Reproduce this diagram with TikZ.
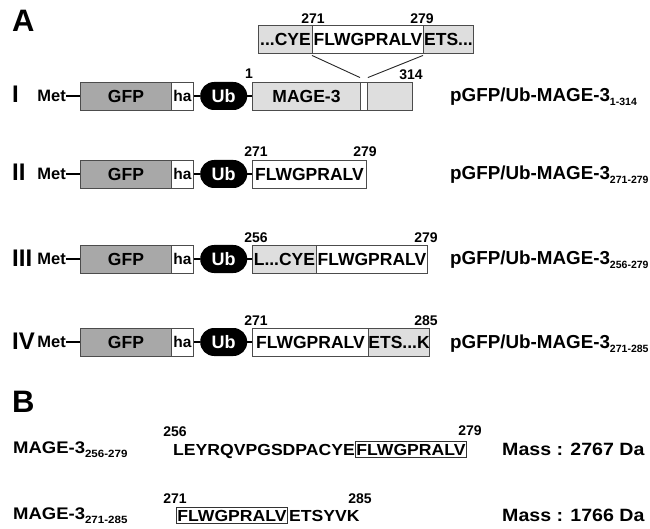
\documentclass[tikz,border=0pt]{standalone}
\usepackage{fontspec}
\setmainfont{Liberation Sans}
\newfontfamily\widefont[FakeStretch=1.1]{Liberation Sans}
\newcommand\setfs[1]{\fontsize{#1}{#1}\selectfont}
\newcommand\lowsub[2][10.5]{\raisebox{-4pt}{\setfs{#1}#2}}
\definecolor{gfpgray}{gray}{0.66}
\definecolor{magegray}{gray}{0.87}
\definecolor{edgegray}{gray}{0.3}
\begin{document}
\begin{tikzpicture}[x=1pt,y=-1pt,
  seg/.style={draw=edgegray,line width=0.9pt,minimum height=28pt,inner sep=0pt,anchor=west,font=\bfseries\setfs{17.5}},
  gfpbox/.style={seg,fill=gfpgray},
  litebox/.style={seg,fill=magegray},
  whitebox/.style={seg,fill=white},
  habox/.style={seg,fill=white,minimum width=22pt,font=\bfseries\setfs{15.5}},
  ubpill/.style={fill=black,text=white,minimum width=47pt,minimum height=28pt,inner sep=0pt,anchor=west,rounded corners=13.9pt,font=\bfseries\setfs{18}},
  link/.style={line width=2pt},
  zoomline/.style={line width=0.9pt,draw=black!85},
  num/.style={inner sep=0pt,font=\bfseries\setfs{14}},
  roman/.style={inner sep=0pt,anchor=base west,font=\bfseries\setfs{24}},
  metlbl/.style={inner sep=0pt,anchor=east,font=\bfseries\setfs{16.5}},
  plabel/.style={inner sep=0pt,anchor=base west,font=\bfseries\setfs{18.8}},
  panel/.style={inner sep=0pt,anchor=north west,font=\bfseries\setfs{31}},
  seqtext/.style={inner sep=0pt,anchor=base west,font=\widefont\bfseries\setfs{16}},
  seqbox/.style={seqtext,draw=black!80,line width=0.8pt,inner xsep=1pt,inner ysep=2pt},
  masslbl/.style={inner sep=0pt,anchor=base west,font=\widefont\bfseries\setfs{17.8}},
  namelbl/.style={inner sep=0pt,anchor=base west,font=\widefont\bfseries\setfs{16.8}}
]
\useasboundingbox (0,0) rectangle (650,529);

% ---------- Panel A ----------
\node[panel] (A) at (12,10) {A};

% Row I
\node[roman] (r1) at (12,103) {I};
\node[metlbl] (met1) at (66,96) {Met};
\node[gfpbox,minimum width=91pt] (gfp1) at (80,96) {GFP};
\node[habox] (ha1) at (171,96) {ha};
\node[ubpill] (ub1) at (200,96) {Ub};
\node[litebox,minimum width=108pt] (mage1) at (252,96) {MAGE-3};
\node[whitebox,minimum width=7pt] (strip1) at (360,96) {};
\node[litebox,minimum width=45pt] (tail1) at (367,96) {};
\draw[link] (met1) -- (gfp1);
\draw[link] (ha1) -- (ub1);
\draw[link] (ub1) -- (mage1);
\node[num] (n1a) at (249,74) {1};
\node[num] (n1b) at (411,75) {314};
\node[plabel] (l1) at (450,102) {pGFP/Ub-MAGE-3\lowsub{1-314}};

% callout
\node[litebox,minimum width=54pt] (c1) at (258,39) {...CYE};
\node[whitebox,minimum width=111pt] (c2) at (312,39) {FLWGPRALV};
\node[litebox,minimum width=50pt] (c3) at (423,39) {ETS...};
\node[num] (c271) at (313,19) {271};
\node[num] (c279) at (422,19) {279};
\draw[zoomline] ([yshift=-2pt]c2.south west) -- ([yshift=4pt]strip1.north west);
\draw[zoomline] ([yshift=-2pt]c3.south west) -- ([yshift=4pt]strip1.north east);

% Row II
\node[roman] (r2) at (12,181) {II};
\node[metlbl] (met2) at (66,174) {Met};
\node[gfpbox,minimum width=91pt] (gfp2) at (80,174) {GFP};
\node[habox] (ha2) at (171,174) {ha};
\node[ubpill] (ub2) at (200,174) {Ub};
\node[whitebox,minimum width=114pt] (flw2) at (252,174) {FLWGPRALV};
\draw[link] (met2) -- (gfp2);
\draw[link] (ha2) -- (ub2);
\draw[link] (ub2) -- (flw2);
\node[num] (n2a) at (256,152) {271};
\node[num] (n2b) at (365,152) {279};
\node[plabel] (l2) at (450,180) {pGFP/Ub-MAGE-3\lowsub{271-279}};

% Row III
\node[roman] (r3) at (12,266) {III};
\node[metlbl] (met3) at (66,259) {Met};
\node[gfpbox,minimum width=91pt] (gfp3) at (80,259) {GFP};
\node[habox] (ha3) at (171,259) {ha};
\node[ubpill] (ub3) at (200,259) {Ub};
\node[litebox,minimum width=64pt] (cye3) at (252,259) {L...CYE};
\node[whitebox,minimum width=111pt] (flw3) at (316,259) {FLWGPRALV};
\draw[link] (met3) -- (gfp3);
\draw[link] (ha3) -- (ub3);
\draw[link] (ub3) -- (cye3);
\node[num] (n3a) at (256,238) {256};
\node[num] (n3b) at (426,238) {279};
\node[plabel] (l3) at (450,265) {pGFP/Ub-MAGE-3\lowsub{256-279}};

% Row IV
\node[roman] (r4) at (12,349) {IV};
\node[metlbl] (met4) at (66,342) {Met};
\node[gfpbox,minimum width=91pt] (gfp4) at (80,342) {GFP};
\node[habox] (ha4) at (171,342) {ha};
\node[ubpill] (ub4) at (200,342) {Ub};
\node[whitebox,minimum width=116pt] (flw4) at (252,342) {FLWGPRALV};
\node[litebox,minimum width=59pt] (ets4) at (368,342) {ETS...K};
\draw[link] (met4) -- (gfp4);
\draw[link] (ha4) -- (ub4);
\draw[link] (ub4) -- (flw4);
\node[num] (n4a) at (256,321) {271};
\node[num] (n4b) at (426,321) {285};
\node[plabel] (l4) at (450,348) {pGFP/Ub-MAGE-3\lowsub{271-285}};

% ---------- Panel B ----------
\node[panel] (B) at (12,391) {B};

\node[namelbl] (pb1) at (13,453) {MAGE-3\lowsub{256-279}};
\node[num] (b256) at (175,432) {256};
\node[seqtext] (s1) at (173,455) {LEYRQVPGSDPACYE};
\node[seqbox] (bx1) at (s1.base east) {FLWGPRALV};
\node[num] (b279) at (470,431) {279};
\node[masslbl] (mass1) at (502,455) {Mass : 2767 Da};

\node[namelbl] (pb2) at (13,519) {MAGE-3\lowsub{271-285}};
\node[num] (b271) at (175,499) {271};
\node[seqbox] (bx2) at (176,521) {FLWGPRALV};
\node[seqtext] (s2) at ([xshift=1pt]bx2.base east) {ETSYVK};
\node[num] (b285) at (360,499) {285};
\node[masslbl] (mass2) at (502,521) {Mass : 1766 Da};
\end{tikzpicture}
\end{document}
